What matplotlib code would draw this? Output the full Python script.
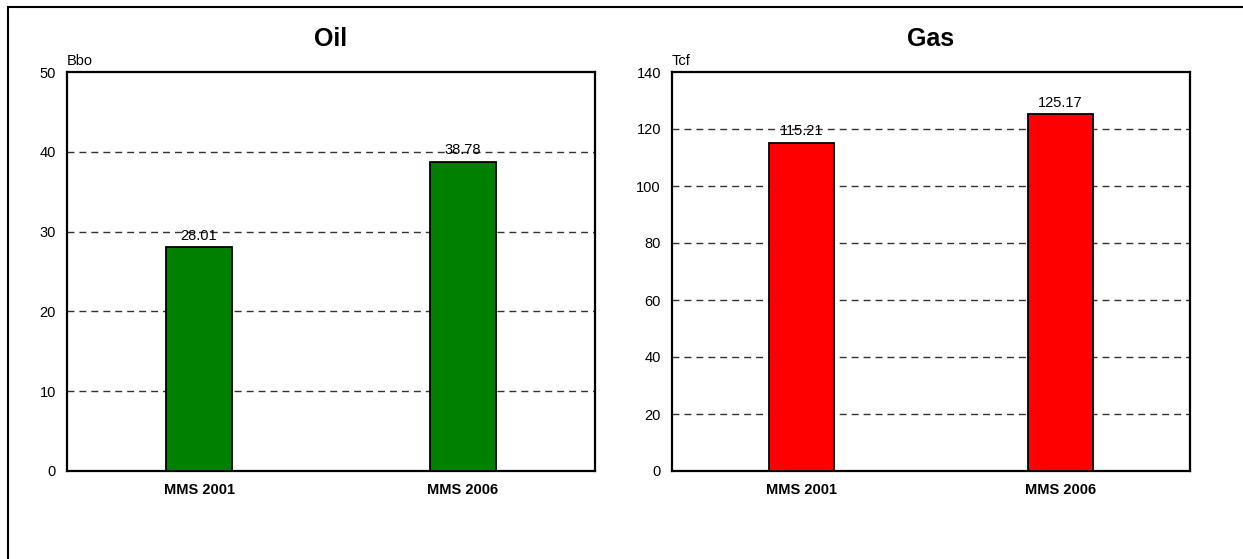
import matplotlib
matplotlib.use("Agg")
import matplotlib.pyplot as plt
from matplotlib.patches import Rectangle

categories = ["MMS 2001", "MMS 2006"]
oil_values = [28.01, 38.78]
gas_values = [115.21, 125.17]
oil_ticks = [0, 10, 20, 30, 40, 50]
gas_ticks = [0, 20, 40, 60, 80, 100, 120, 140]

W, H = 1243, 559
fig = plt.figure(figsize=(W / 100, H / 100), dpi=100)
plt.rcParams['font.family'] = ['Liberation Sans', 'DejaVu Sans']

fig.patches.append(Rectangle((8 / W, 1 - 700 / H), 1400 / W, (700 - 7) / H,
                             transform=fig.transFigure, fill=False,
                             edgecolor='black', linewidth=1.5))

def make(ax_rect, vals, ticks, color, title, unit):
    l, t, r, b = ax_rect
    ax = fig.add_axes([l / W, 1 - b / H, (r - l) / W, (b - t) / H])
    x = list(range(len(categories)))
    ax.bar(x, vals, width=0.25, color=color, edgecolor='black', linewidth=1.3, zorder=3)
    ax.set_xlim(-0.5, 1.5)
    ax.set_ylim(ticks[0], ticks[-1])
    ax.set_yticks(ticks)
    ax.set_xticks(x)
    ax.set_xticklabels(categories, fontweight='bold', fontsize=10.5)
    ax.tick_params(axis='both', length=0, labelsize=10.5)
    ax.tick_params(axis='y', pad=8)
    ax.tick_params(axis='x', pad=9)
    for tk in ticks[1:-1]:
        ax.axhline(tk, color='#333333', linestyle=(0, (5, 3.6)), linewidth=1.0, zorder=1)
    for s in ax.spines.values():
        s.set_linewidth(1.6)
    for xi, v in zip(x, vals):
        ax.annotate(f"{v:.2f}", (xi, v), xytext=(0, 3), textcoords='offset points',
                    ha='center', va='bottom', fontsize=10.5, zorder=4)
    ax.annotate(unit, (0, 1), xycoords='axes fraction', xytext=(0, 3),
                textcoords='offset points', ha='left', va='bottom', fontsize=10.5)
    fig.text((l + r) / 2 / W, 1 - 39 / H, title, ha='center', va='center',
             fontsize=18, fontweight='bold')
    return ax

make((67, 72, 595, 471), oil_values, oil_ticks, '#008000', 'Oil', 'Bbo')
make((672, 72, 1190, 471), gas_values, gas_ticks, '#ff0000', 'Gas', 'Tcf')

fig.savefig('out.png', dpi=100)
